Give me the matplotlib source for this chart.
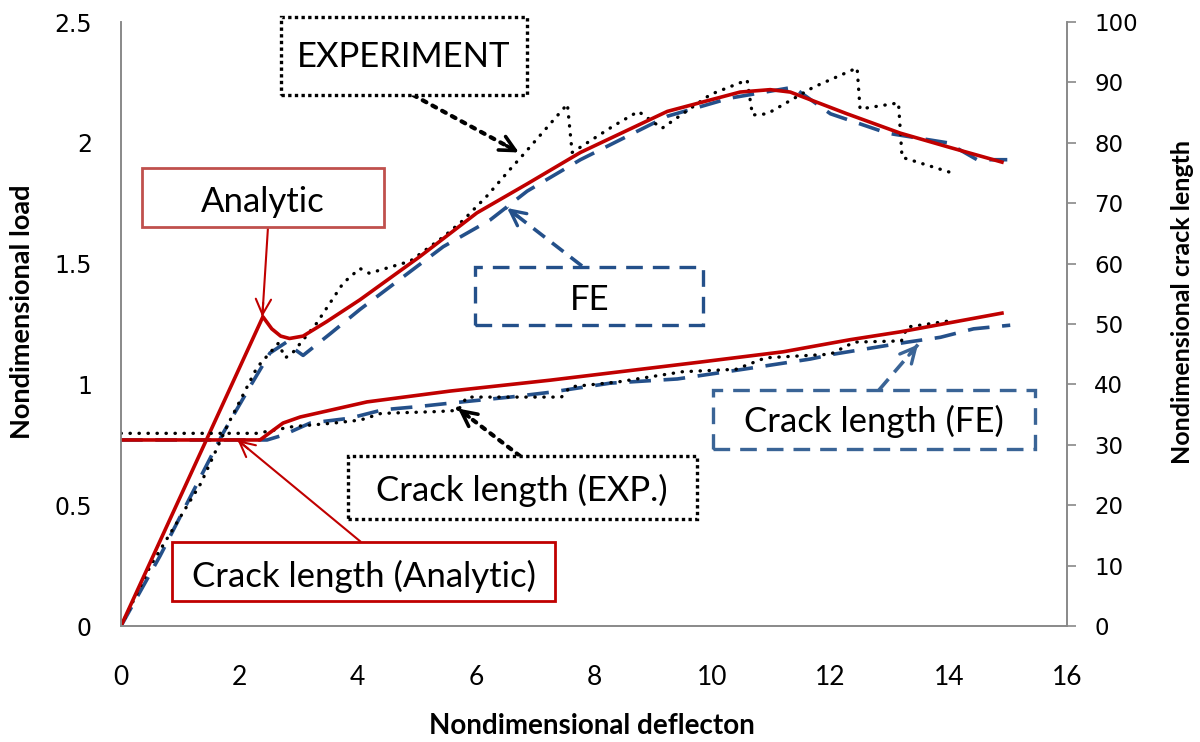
import numpy as np
import matplotlib
matplotlib.use("Agg")
import matplotlib.pyplot as plt
from matplotlib.patches import Rectangle

# load curves (left axis)
defl_an_load = [0, 2.4, 2.55, 2.7, 2.85, 3.08, 3.48, 4.04, 5.06, 6.02, 6.87, 7.77, 9.24, 10.47, 10.98, 11.32, 12.28, 13.18, 14.03, 14.9]
load_an = [0, 1.28, 1.23, 1.20, 1.19, 1.20, 1.26, 1.35, 1.53, 1.71, 1.83, 1.96, 2.13, 2.21, 2.22, 2.21, 2.12, 2.04, 1.98, 1.92]

defl_fe_load = [0, 0.66, 1.73, 2.18, 2.52, 2.8, 2.85, 3.08, 3.54, 4.04, 5.45, 6.24, 6.87, 7.77, 9.24, 10.3, 11.37, 12.0, 12.96, 13.98, 14.48, 14.99]
load_fe = [0, 0.29, 0.80, 0.99, 1.13, 1.175, 1.16, 1.12, 1.21, 1.31, 1.57, 1.68, 1.80, 1.93, 2.11, 2.185, 2.23, 2.12, 2.04, 2.0, 1.93, 1.93]

defl_exp_load = [0, 0.5, 1.35, 1.8, 2.3, 2.66, 2.78, 2.9, 3.0, 3.3, 3.76, 4.04, 4.2, 4.89, 5.45, 5.79, 6.19, 6.58, 6.8,
                 7.55, 7.63, 8.33, 8.75, 9.15, 9.97, 10.59, 10.68, 10.93, 11.71, 12.45, 12.5, 13.15, 13.21, 14.06]
load_exp = [0, 0.25, 0.59, 0.83, 1.07, 1.17, 1.11, 1.13, 1.16, 1.25, 1.42, 1.48, 1.46, 1.51, 1.61, 1.68, 1.78, 1.89, 1.95,
            2.16, 1.96, 2.07, 2.13, 2.06, 2.20, 2.26, 2.115, 2.12, 2.23, 2.31, 2.14, 2.165, 1.94, 1.875]

# crack length curves (right axis)
defl_an_crack = [0, 2.35, 2.74, 3.03, 4.16, 5.57, 7.26, 9.8, 11.2, 12.33, 13.18, 14.9]
crack_an = [30.8, 30.8, 33.6, 34.6, 37.1, 38.9, 40.7, 43.7, 45.4, 47.4, 48.7, 51.8]

defl_fe_crack = [0, 2.47, 2.74, 3.2, 3.87, 4.43, 5.0, 5.57, 6.58, 7.26, 8.27, 9.41, 10.52, 11.66, 12.05, 13.3, 13.86, 14.42, 15.04]
crack_fe = [30.8, 30.8, 31.6, 33.6, 34.4, 35.8, 36.3, 36.9, 37.9, 38.7, 40.2, 40.9, 42.5, 44.2, 45.0, 47.0, 47.8, 49.2, 49.8]

defl_exp_crack = [0, 2.3, 2.9, 3.6, 4.05, 4.4, 5.35, 5.7, 5.85, 7.45, 7.6, 8.4, 9.5, 10.4, 10.9, 12.0, 12.4, 13.2, 13.3, 14.0]
crack_exp = [31.9, 31.9, 33.0, 33.6, 34.1, 35.2, 35.5, 35.7, 37.9, 37.9, 39.6, 40.4, 42.1, 42.5, 44.4, 45.0, 47.0, 47.2, 49.5, 50.5]

x_ticks = list(range(0, 17, 2))
load_ticks = [0, 0.5, 1, 1.5, 2, 2.5]
load_tick_labels = ["0", "0.5", "1", "1.5", "2", "2.5"]
crack_ticks = list(range(0, 101, 10))

RED = "#C00000"
BLUE = "#24508A"
BLUE2 = "#3A6496"
GREY = "#898989"
DOT = (0, (0.1, 2.6))
W, H = 1200, 742

plt.rcParams['font.family'] = ['Lato', 'DejaVu Sans']

fig = plt.figure(figsize=(W / 100, H / 100), dpi=100)
ax = fig.add_axes([121 / W, 116 / H, 946 / W, 604 / H])
ax2 = ax.twinx()

ax.plot(defl_fe_load, load_fe, color=BLUE, lw=2.6, ls=(0, (6, 3.5)))
ax.plot(defl_exp_load, load_exp, color='black', lw=2.4, ls=DOT, dash_capstyle='round')
ax.plot(defl_an_load, load_an, color=RED, lw=2.6)

ax2.plot(defl_fe_crack, crack_fe, color=BLUE, lw=2.6, ls=(0, (6, 3.5)))
ax2.plot(defl_exp_crack, crack_exp, color='black', lw=2.4, ls=DOT, dash_capstyle='round')
ax2.plot(defl_an_crack, crack_an, color=RED, lw=2.6)

ax.set_xlim(0, 16)
ax.set_ylim(0, 2.5)
ax2.set_ylim(0, 100)
ax.set_xticks(x_ticks)
ax.set_yticks(load_ticks)
ax.set_yticklabels(load_tick_labels)
ax2.set_yticks(crack_ticks)

for a in (ax, ax2):
    a.spines['top'].set_visible(False)
    for s in ('left', 'right', 'bottom'):
        a.spines[s].set_color(GREY)
        a.spines[s].set_linewidth(1.2)

ax.tick_params(axis='x', length=0, pad=28, labelsize=19, labelfontfamily='Lato')
ax.tick_params(axis='y', length=0, pad=21, labelsize=17, labelfontfamily='DejaVu Sans')
ax2.tick_params(axis='y', length=6.5, width=1.2, color=GREY, direction='out', pad=13,
                labelsize=16.5, labelfontfamily='DejaVu Sans')

# axis titles
fig.text(592 / 100, (H - 726) / 100, "Nondimensional deflecton", transform=fig.dpi_scale_trans,
         ha='center', va='center', fontsize=20, fontweight='bold')
fig.text(22 / 100, (H - 312) / 100, "Nondimensional load", transform=fig.dpi_scale_trans,
         ha='center', va='center', fontsize=19.5, fontweight='bold', rotation=90)
fig.text(1183 / 100, (H - 302) / 100, "Nondimensional crack length", transform=fig.dpi_scale_trans,
         ha='center', va='center', fontsize=18, fontweight='bold', rotation=90)


def box(x0, y0, x1, y1, text, tx, ty, ec, ls, lw):
    fig.add_artist(Rectangle((x0 / 100, (H - y1) / 100), (x1 - x0) / 100, (y1 - y0) / 100,
                             transform=fig.dpi_scale_trans, fc='white', ec=ec, ls=ls, lw=lw, zorder=5))
    fig.text(tx / 100, (H - ty) / 100, text, transform=fig.dpi_scale_trans, ha='center', va='center',
             fontsize=25, zorder=6)


def pointer(axis, tip, tail, color, ls, lw, head_lw):
    tail = (tail[0], H - tail[1])
    axis.annotate('', xy=tip, xycoords='data', xytext=tail, textcoords='figure pixels',
                  arrowprops=dict(arrowstyle='-', color=color, ls=ls, lw=lw, shrinkA=0, shrinkB=0,
                                  capstyle='round' if ls == ':' else 'butt'),
                  annotation_clip=False)
    tx, ty = axis.transData.transform(tip)
    dx, dy = tx - tail[0], ty - tail[1]
    n = np.hypot(dx, dy)
    back = (tx - 14 * dx / n, ty - 14 * dy / n)
    axis.annotate('', xy=tip, xycoords='data', xytext=back, textcoords='figure pixels',
                  arrowprops=dict(arrowstyle='->,head_length=1.1,head_width=0.55', color=color,
                                  lw=head_lw, shrinkA=0, shrinkB=0),
                  annotation_clip=False)


pointer(ax, (6.73, 1.96), (413, 95), 'black', ':', 3, 2.6)
pointer(ax, (2.39, 1.28), (268, 227), RED, '-', 1.5, 1.5)
pointer(ax, (6.53, 1.73), (582, 266), BLUE, (0, (4, 2.5)), 2.6, 2.4)
pointer(ax2, (5.70, 36.0), (520, 456), 'black', ':', 3, 2.6)
pointer(ax2, (13.48, 46.6), (879, 390), BLUE2, (0, (4, 2.5)), 2.6, 2.4)
pointer(ax2, (1.97, 30.8), (361, 542), RED, '-', 1.5, 1.5)

box(281, 17, 527, 95, "EXPERIMENT", 404, 57, 'black', (0, (1, 1)), 2.4)
box(142, 168, 384, 227, "Analytic", 263, 202, '#C0504D', '-', 2.0)
box(475, 267, 703, 325, "FE", 590, 300, BLUE, (0, (5, 3)), 2.4)
box(348, 456, 697, 519, "Crack length (EXP.)", 522, 490, 'black', (0, (1, 1)), 2.4)
box(713, 390, 1035, 449, "Crack length (FE)", 874, 421, BLUE2, (0, (5, 3)), 2.4)
box(172, 542, 555, 601, "Crack length (Analytic)", 364, 576, RED, '-', 2.0)

fig.savefig("out.png", dpi=100)
